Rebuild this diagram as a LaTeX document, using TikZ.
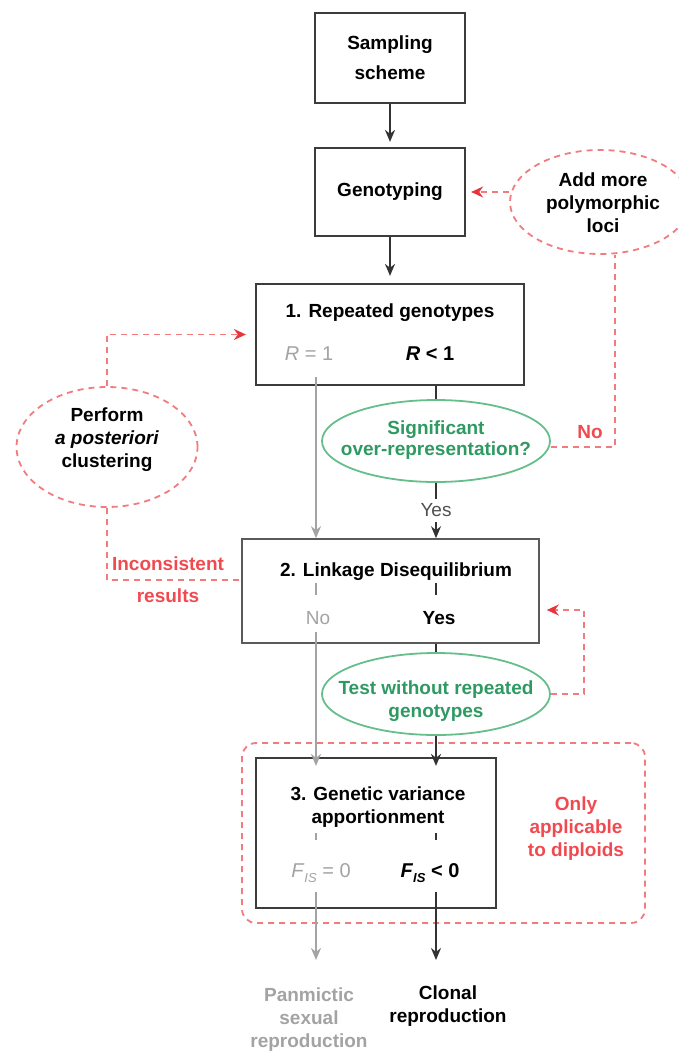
\documentclass[tikz,border=0pt]{standalone}
\usepackage{fontspec}
\setmainfont{Liberation Sans}
\usetikzlibrary{arrows.meta,shapes.geometric}
\definecolor{boxc}{HTML}{3C3C3C}
\definecolor{boxlight}{HTML}{5A5A5A}
\definecolor{blkc}{HTML}{333333}
\definecolor{grayc}{HTML}{A3A3A3}
\definecolor{redd}{HTML}{F27B7E}
\definecolor{redtip}{HTML}{E8343C}
\definecolor{redtxt}{HTML}{F04A50}
\definecolor{greentxt}{HTML}{2E9A62}
\definecolor{greenl}{HTML}{66BE8C}
\definecolor{yesc}{HTML}{505050}
\begin{document}
\begin{tikzpicture}[x=1pt,y=-1pt,
  font=\fontsize{19}{23}\selectfont\bfseries,
  box/.style={draw=boxc,line width=2.2pt,rectangle,inner sep=0pt},
  boxl/.style={draw=boxlight,line width=1.6pt,rectangle,inner sep=0pt},
  gell/.style={draw=greenl,line width=1.8pt,ellipse,inner sep=0pt},
  rell/.style={draw=redd,line width=1.8pt,ellipse,inner sep=0pt,dash pattern=on 6pt off 5pt},
  txt/.style={inner sep=1pt,align=center},
  gtxt/.style={txt,text=greentxt},
  rtxt/.style={txt,text=redtxt},
  graytxt/.style={txt,text=grayc},
  blk/.style={draw=blkc,line width=1.7pt},
  blkarrow/.style={blk,-{Stealth[length=12pt,width=10pt]}},
  gline/.style={draw=grayc,line width=1.7pt},
  garrow/.style={gline,-{Stealth[length=12pt,width=10pt]}},
  rdash/.style={draw=redd,line width=1.8pt,dash pattern=on 6pt off 5pt},
  rarrow/.style={rdash,-{Stealth[length=12pt,width=11pt,color=redtip]}},
]
\useasboundingbox (0,0) rectangle (679,1052);

% boxes
\node[box,minimum width=150pt,minimum height=90pt,align=center] (samp) at (390,58) {Sampling\\[7pt]scheme};
\node[box,minimum width=150pt,minimum height=88pt] (geno) at (390,192) {Genotyping};
\node[box,minimum width=268pt,minimum height=101pt] (box1) at (390,334.5) {};
\node[txt] (t1) at (390,313) {1. Repeated genotypes};
\node[graytxt,font=\fontsize{20}{23}\selectfont] (r1) at (309,354) {\textit{R} = 1};
\node[txt,font=\fontsize{20}{23}\selectfont\bfseries] (r2) at (430,354) {\textit{R} < 1};

\node[boxl,minimum width=297pt,minimum height=104pt] (box2) at (390.5,591) {};
\node[txt] (t2) at (396,572) {2. Linkage Disequilibrium};
\node[graytxt,font=\fontsize{19}{23}\selectfont] (no2) at (318,618) {No};
\node[txt] (yes2) at (439,618) {Yes};

\node[draw=redd,line width=1.8pt,dash pattern=on 6pt off 5pt,rounded corners=14pt,minimum width=403pt,minimum height=180pt] (dip) at (443.5,833) {};
\node[box,fill=white,minimum width=240pt,minimum height=150pt] (box3) at (376,833) {};
\node[txt] (t3) at (378,807) {3. Genetic variance\\apportionment};
\node[graytxt,font=\fontsize{20}{23}\selectfont] (f0) at (321,873) {\textit{F}\raisebox{-5pt}{\fontsize{13}{13}\selectfont\textit{IS}} = 0};
\node[txt,font=\fontsize{20}{23}\selectfont\bfseries] (f1) at (430,873) {\textit{F}\raisebox{-5pt}{\fontsize{13}{13}\selectfont\bfseries\textit{IS}} < 0};

% ellipses
\node[rell,minimum width=180pt,minimum height=104pt] (add) at (600,202) {};
\node[txt] (addt) at (603,203) {Add more\\polymorphic\\loci};
\node[rell,minimum width=181pt,minimum height=120pt] (perf) at (107,447) {};
\node[txt] (perft) at (107,440) {Perform\\\textit{a posteriori}\\clustering};
\node[gell,minimum width=228pt,minimum height=82pt] (sig) at (436,441) {};
\node[gtxt,font=\fontsize{19}{21}\selectfont\bfseries] (sigt) at (436,440) {Significant\\over-representation?};
\node[gell,minimum width=228pt,minimum height=82pt] (test) at (436,694) {};
\node[gtxt] (testt) at (436,701) {Test without repeated\\genotypes};

% red labels
\node[rtxt] (nolab) at (590,432) {No};
\node[rtxt] (incons) at (168,580) {Inconsistent\\[9pt]results};
\node[rtxt] (only) at (576,829) {Only\\applicable\\to diploids};

% outputs
\node[graytxt] (panm) at (309,1020) {Panmictic\\sexual\\reproduction};
\node[txt] (clonal) at (448,1006.5) {Clonal\\reproduction};

% coordinates
\coordinate (noturn) at (615,447);
\coordinate (gstart) at (316,377);
\coordinate (incturn) at (107,580);
\coordinate (tturn) at (584,610);
\coordinate (g2start) at (316,632);
\coordinate (g3start) at (316,892);
\coordinate (b3start) at (436,892);
\coordinate (gend) at (316,960);
\coordinate (bend) at (436,960);

% black flow
\draw[blkarrow,shorten >=5pt] (samp) -- (geno);
\draw[blkarrow,shorten >=7pt] (geno) -- (box1);
\draw[blk] (sig.north |- box1.south) -- (sig.north);
\draw[blkarrow] (sig.south) -- (sig.south |- box2.north)
  node[midway,fill=white,inner sep=5pt,text=yesc,font=\fontsize{19}{23}\selectfont] {Yes};
\draw[blk] (436,583) -- (436,595);
\draw[blk] (box2.south -| test.north) -- (test.north);
\draw[blkarrow,shorten >=-9pt] (test.south) -- (test.south |- box3.north);
\draw[blk] (436,833) -- (436,840);
\draw[blkarrow] (b3start) -- (bend);

% gray flow
\draw[garrow] (gstart) -- (gstart |- box2.north);
\draw[gline] (316,583) -- (316,595);
\draw[garrow,shorten >=-9pt] (g2start) -- (g2start |- box3.north);
\draw[gline] (316,833) -- (316,840);
\draw[garrow] (g3start) -- (gend);

% red dashed loops
\draw[rarrow,shorten >=5pt] (add.west |- geno.east) -- (geno.east);
\draw[rdash] (sig.east |- noturn) -- (noturn) -- (noturn |- add.south);
\draw[rarrow,shorten >=9pt] (perf.north) |- (box1.west);
\draw[rdash] (perf.south) -- (incturn) -- (incturn -| box2.west);
\draw[rarrow,shorten >=7pt] (test.east) -- (test.east -| tturn) -- (tturn) -- (tturn -| box2.east);
\end{tikzpicture}
\end{document}
